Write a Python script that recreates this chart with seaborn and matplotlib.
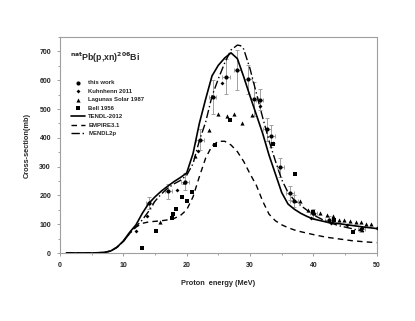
import numpy as np
import pandas as pd
import seaborn as sns
import matplotlib.pyplot as plt
from matplotlib.ticker import MultipleLocator

# model curves
e_tendl = [1, 5, 7, 8, 9, 10, 11, 12, 13, 14, 15, 16, 17, 18, 19, 20, 21, 22, 23, 24, 25, 26, 27, 28, 29,
           30, 31, 32, 33, 34, 35, 36, 37, 38, 39, 40, 42, 44, 46, 48, 50]
s_tendl = [0, 0, 2, 7, 20, 42, 72, 98, 138, 172, 195, 215, 232, 248, 262, 278, 345, 450, 535, 615, 652, 677, 695, 675,
           612, 545, 480, 415, 340, 275, 210, 170, 152, 138, 127, 118, 108, 102, 96, 90, 85]

e_empire = [1, 5, 7, 8, 9, 10, 11, 12, 13, 14, 15, 16, 17, 18, 19, 20, 21, 22, 23, 24, 25, 26, 27, 28, 29,
            30, 31, 32, 33, 34, 35, 36, 37, 38, 39, 40, 42, 44, 46, 48, 50]
s_empire = [0, 0, 2, 7, 20, 40, 68, 90, 103, 108, 110, 112, 115, 120, 130, 150, 195, 265, 330, 372, 388, 388, 375, 352,
            318, 275, 235, 180, 135, 112, 98, 88, 80, 74, 69, 64, 55, 49, 43, 39, 36]

e_mendl = [1, 5, 7, 8, 9, 10, 11, 12, 13, 14, 15, 16, 17, 18, 19, 20, 21, 22, 23, 24, 25, 26, 27, 28, 28.5,
           29, 30, 31, 32, 33, 34, 35, 36, 37, 38, 40, 42, 44, 46, 48]
s_mendl = [0, 0, 2, 7, 20, 40, 68, 92, 115, 145, 180, 205, 225, 240, 252, 270, 310, 390, 455, 545, 605, 660, 705, 722,
           720, 708, 640, 555, 470, 390, 320, 255, 210, 183, 165, 132, 110, 95, 85, 74]

# experimental data
e_work = [14.1, 17.1, 19.7, 22.1, 24.1, 26.2, 28.0, 29.7, 30.7, 31.5, 32.7, 33.3, 34.8, 36.3, 36.9, 40.0, 42.5, 47.6]
s_work = [173, 214, 248, 394, 541, 612, 636, 603, 535, 533, 429, 405, 298, 208, 181, 138, 115, 84]
err_work = [20, 25, 30, 35, 58, 61, 70, 50, 60, 35, 40, 38, 33, 25, 20, 15, 12, 10]

e_kuhn = [12.0, 13.7, 18.4, 21.8, 25.6, 31.6, 33.7, 39.7, 42.8, 45.3, 47.7, 50.0]
s_kuhn = [75, 127, 220, 353, 591, 510, 382, 121, 103, 98, 86, 86]

e_lag = [15.8, 19.6, 21.3, 23.6, 25.0, 26.3, 27.5, 28.7, 30.3, 37.9, 39.1, 40.1, 41.1, 42.1, 43.1, 44.1, 44.9,
         45.8, 46.8, 47.5, 48.3, 49.1]
s_lag = [108, 246, 338, 428, 484, 475, 481, 452, 478, 182, 150, 140, 138, 133, 128, 114, 116, 112, 107, 109, 102, 101]

e_bell = [12.9, 15.1, 17.7, 17.8, 18.3, 19.3, 20.0, 20.8, 24.4, 26.9, 33.7, 37.1, 39.9, 43.2, 46.3]
s_bell = [16, 78, 123, 136, 153, 194, 179, 211, 376, 463, 380, 273, 141, 115, 73]

sns.set_style("white")
plt.rcParams['font.family'] = ['Liberation Sans', 'DejaVu Sans']
plt.rcParams['font.weight'] = 'bold'

fig = plt.figure(figsize=(4.15, 3.21), dpi=100)
ax = fig.add_axes([0.1446, 0.2118, 0.7631, 0.6729])

ax.errorbar(e_work, s_work, yerr=err_work, xerr=0.6, fmt='none', ecolor='#a0a0a0', elinewidth=0.7, capsize=1.2,
            capthick=0.7, zorder=2)

sns.scatterplot(x=e_work, y=s_work, marker='o', color='black', s=9, linewidth=0, label='this work', ax=ax, zorder=4)
sns.scatterplot(x=e_kuhn, y=s_kuhn, marker='D', color='black', s=4, linewidth=0, label='Kuhnhenn 2011', ax=ax, zorder=4)
sns.scatterplot(x=e_lag, y=s_lag, marker='^', color='black', s=9, linewidth=0, label='Lagunas Solar 1987', ax=ax, zorder=4)
sns.scatterplot(x=e_bell, y=s_bell, marker='s', color='black', s=9, linewidth=0, label='Bell 1956', ax=ax, zorder=4)

sns.lineplot(x=e_tendl, y=s_tendl, color='black', linewidth=1.2, label='TENDL-2012', ax=ax, zorder=3)
sns.lineplot(x=e_empire, y=s_empire, color='black', linewidth=1.0, linestyle=(0, (4, 3)), label='EMPIRE3.1', ax=ax, zorder=3)
sns.lineplot(x=e_mendl, y=s_mendl, color='black', linewidth=1.0, linestyle=(0, (6, 2, 1, 2)), label='MENDL2p', ax=ax, zorder=3)

ax.set_xlim(0, 50)
ax.set_ylim(0, 750)
ax.xaxis.set_major_locator(MultipleLocator(10))
ax.xaxis.set_minor_locator(MultipleLocator(5))
ax.yaxis.set_major_locator(MultipleLocator(100))
ax.yaxis.set_minor_locator(MultipleLocator(50))
ax.set_yticks(range(0, 701, 100))
ax.tick_params(axis='both', which='major', labelsize=5, length=2.5, color='#909090', width=0.6, direction='out',
               bottom=True, left=True, pad=4)
ax.tick_params(axis='both', which='minor', length=1.5, color='#909090', width=0.6, direction='out',
               bottom=True, left=True)
for sp in ax.spines.values():
    sp.set_color('#a0a0a0')
    sp.set_linewidth(0.8)

ax.set_xlabel('Proton  energy (MeV)', fontsize=5.3, fontweight='bold', labelpad=8)
ax.set_ylabel('Cross-section(mb)', fontsize=5.3, fontweight='bold', labelpad=6)

ax.text(1.6, 665, r'$^{\mathbf{nat}}$Pb(p,xn)$^{\mathbf{206}}$Bi', fontsize=6.3, fontweight='bold')

ax.legend(loc='upper left', bbox_to_anchor=(0.035, 0.80), frameon=False, fontsize=4.3, handlelength=2.4,
          handletextpad=0.5, labelspacing=0.55, borderaxespad=0, borderpad=0, markerscale=1.0)

plt.savefig("out.png", dpi=100)
